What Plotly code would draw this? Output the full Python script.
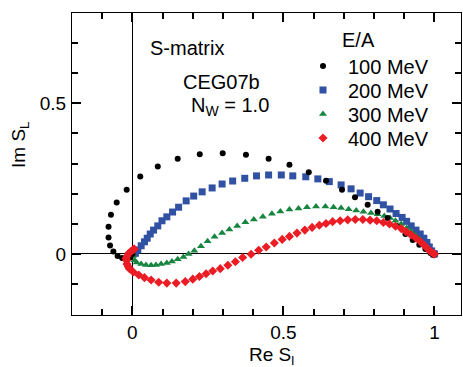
import plotly.graph_objects as go

# ---- data (Re S_L, Im S_L) ----
labels = ["100 MeV", "200 MeV", "300 MeV", "400 MeV"]
colors = ["#000000", "#3151A3", "#17843F", "#EC1C24"]

re_100 = [0.0, -0.008, -0.021, -0.034, -0.049, -0.063, -0.074, -0.079, -0.079, -0.071, -0.052, -0.019,
          0.026, 0.084, 0.15, 0.223, 0.299, 0.376, 0.451, 0.52, 0.584, 0.641, 0.694, 0.737, 0.779,
          0.812, 0.845, 0.875, 0.904, 0.928, 0.95, 0.97, 0.987, 0.997, 1.0]
im_100 = [0.0, -0.012, -0.018, -0.014, -0.007, 0.008, 0.028, 0.054, 0.09, 0.13, 0.171, 0.213,
          0.257, 0.29, 0.316, 0.331, 0.334, 0.329, 0.316, 0.296, 0.271, 0.243, 0.213, 0.188, 0.163,
          0.14, 0.119, 0.093, 0.066, 0.046, 0.03, 0.016, 0.003, -0.004, 0.0]

re_200 = [0.002, 0.01, 0.018, 0.029, 0.04, 0.049, 0.059, 0.07, 0.084, 0.098, 0.114, 0.133, 0.153,
          0.178, 0.203, 0.231, 0.264, 0.297, 0.332, 0.372, 0.411, 0.451, 0.493, 0.531, 0.574, 0.614,
          0.652, 0.691, 0.724, 0.754, 0.782, 0.809, 0.831, 0.853, 0.873, 0.893, 0.908, 0.923, 0.939,
          0.953, 0.965, 0.975, 0.983, 0.991, 0.997, 1.0]
im_200 = [0.0, 0.002, 0.013, 0.027, 0.04, 0.052, 0.066, 0.079, 0.093, 0.11, 0.123, 0.139, 0.155,
          0.176, 0.192, 0.206, 0.219, 0.232, 0.242, 0.251, 0.259, 0.262, 0.262, 0.259, 0.256, 0.249,
          0.24, 0.229, 0.216, 0.202, 0.19, 0.177, 0.163, 0.149, 0.134, 0.121, 0.108, 0.093, 0.079,
          0.066, 0.052, 0.038, 0.023, 0.01, 0.0, 0.0]

re_300 = [0.0, 0.001, 0.007, 0.014, 0.029, 0.045, 0.062, 0.078, 0.095, 0.114, 0.131, 0.15, 0.169,
          0.186, 0.205, 0.227, 0.249, 0.272, 0.297, 0.321, 0.347, 0.374, 0.402, 0.432, 0.462, 0.49,
          0.52, 0.55, 0.578, 0.608, 0.639, 0.666, 0.691, 0.716, 0.741, 0.765, 0.79, 0.812, 0.834,
          0.853, 0.871, 0.89, 0.908, 0.923, 0.937, 0.95, 0.964, 0.975, 0.986, 0.994, 1.0]
im_300 = [0.0, -0.007, -0.021, -0.029, -0.034, -0.037, -0.038, -0.037, -0.034, -0.03, -0.025, -0.018,
          -0.01, 0.0, 0.01, 0.025, 0.042, 0.057, 0.069, 0.081, 0.093, 0.105, 0.114, 0.123, 0.133,
          0.141, 0.147, 0.151, 0.155, 0.157, 0.157, 0.155, 0.152, 0.148, 0.144, 0.14, 0.136, 0.132,
          0.126, 0.119, 0.11, 0.099, 0.086, 0.074, 0.062, 0.049, 0.034, 0.021, 0.008, 0.001, 0.0]

re_400 = [0.006, 0.004, 0.001, -0.005, -0.012, -0.018, -0.021, -0.019, -0.018, -0.014, -0.01, 0.003,
          0.021, 0.04, 0.062, 0.087, 0.114, 0.145, 0.175, 0.2, 0.222, 0.244, 0.266, 0.291, 0.316,
          0.341, 0.365, 0.393, 0.418, 0.443, 0.47, 0.496, 0.52, 0.545, 0.571, 0.595, 0.619, 0.641,
          0.663, 0.688, 0.713, 0.738, 0.763, 0.787, 0.809, 0.831, 0.851, 0.871, 0.89, 0.906, 0.923,
          0.939, 0.954, 0.967, 0.978, 0.989, 0.997, 1.0]
im_400 = [0.016, 0.015, 0.012, 0.008, 0.002, -0.008, -0.015, -0.022, -0.034, -0.042, -0.049, -0.06,
          -0.07, -0.079, -0.087, -0.094, -0.097, -0.097, -0.092, -0.084, -0.075, -0.066, -0.057,
          -0.049, -0.038, -0.026, -0.012, -0.001, 0.012, 0.023, 0.036, 0.048, 0.058, 0.069, 0.079,
          0.088, 0.095, 0.101, 0.107, 0.11, 0.113, 0.114, 0.114, 0.112, 0.11, 0.104, 0.099, 0.092,
          0.084, 0.074, 0.063, 0.052, 0.04, 0.028, 0.016, 0.006, 0.0, 0.0]

x_tick_step = 0.5
y_tick_step = 0.5
minor_step = 0.1

FONT = "Liberation Sans, Arial, Helvetica, sans-serif"

series = [
    (re_100, im_100, "circle", 6),
    (re_200, im_200, "square", 7),
    (re_300, im_300, "triangle-up", 7),
    (re_400, im_400, "diamond", 7),
]
draw_order = [1, 2, 0, 3]
legend_ids = ["legend", "legend2", "legend3", "legend4"]
legend_row_px = [66, 90, 114, 138]   # vertical centre of each legend row, in pixels from the top

fig = go.Figure()
for i in draw_order:
    xs, ys, sym, sz = series[i]
    fig.add_trace(go.Scatter(
        x=xs, y=ys, mode="markers", name=labels[i], legend=legend_ids[i],
        marker=dict(symbol=sym, size=sz, color=colors[i], line=dict(width=0)),
    ))

axis_common = dict(
    showline=True, linecolor="black", linewidth=1, mirror="allticks",
    tickmode="linear", tick0=0,
    ticks="inside", ticklen=9, tickwidth=2, tickcolor="black",
    showgrid=False, zeroline=True, zerolinecolor="black", zerolinewidth=1,
    tickfont=dict(family=FONT, size=19, color="black"),
    minor=dict(ticks="inside", dtick=minor_step, tick0=0, ticklen=6, tickwidth=2,
               tickcolor="black", showgrid=False),
)

fig.update_xaxes(range=[-0.2, 1.088], dtick=x_tick_step, ticklabelstandoff=0, **axis_common)
fig.update_yaxes(range=[-0.203, 0.8], dtick=y_tick_step, ticklabelstandoff=1, **axis_common)

PLOT_L, PLOT_T, PLOT_W, PLOT_H = 72, 13, 389, 302


def px_x(p):
    return (p - PLOT_L) / PLOT_W


def px_y(p):
    return (PLOT_T + PLOT_H - p) / PLOT_H


legend_layout = {}
for lid, row in zip(legend_ids, legend_row_px):
    legend_layout[lid] = dict(
        x=px_x(298), y=px_y(row), xanchor="left", yanchor="middle",
        font=dict(family=FONT, size=20, color="black"),
        bgcolor="rgba(0,0,0,0)", borderwidth=0, itemwidth=40,
    )

ann_font = dict(family=FONT, size=20, color="black")
fig.update_layout(
    width=463, height=367,
    margin=dict(l=PLOT_L, r=463 - PLOT_L - PLOT_W, t=PLOT_T, b=367 - PLOT_T - PLOT_H),
    paper_bgcolor="white", plot_bgcolor="white",
    showlegend=True,
    annotations=[
        dict(text="S-matrix", x=0.05, y=0.685, xref="x", yref="y",
             xanchor="left", yanchor="middle", showarrow=False, font=ann_font),
        dict(text="CEG07b", x=0.161, y=0.571, xref="x", yref="y",
             xanchor="left", yanchor="middle", showarrow=False, font=ann_font),
        dict(text="N<sub>W</sub> = 1.0", x=0.189, y=0.49, xref="x", yref="y",
             xanchor="left", yanchor="middle", showarrow=False, font=ann_font),
        dict(text="E/A", x=px_x(358), y=px_y(40), xref="paper", yref="paper",
             xanchor="center", yanchor="middle", showarrow=False, font=ann_font),
        dict(text="Re S<sub>l</sub>", x=px_x(271), y=px_y(356),
             xref="paper", yref="paper", xanchor="center", yanchor="middle",
             showarrow=False, font=dict(family=FONT, size=19, color="black")),
        dict(text="Im S<sub>L</sub>", x=px_x(20), y=px_y(145),
             xref="paper", yref="paper", xanchor="center", yanchor="middle",
             textangle=-90, showarrow=False,
             font=dict(family=FONT, size=19, color="black")),
    ],
    **legend_layout,
)

fig.write_html("out.html")
